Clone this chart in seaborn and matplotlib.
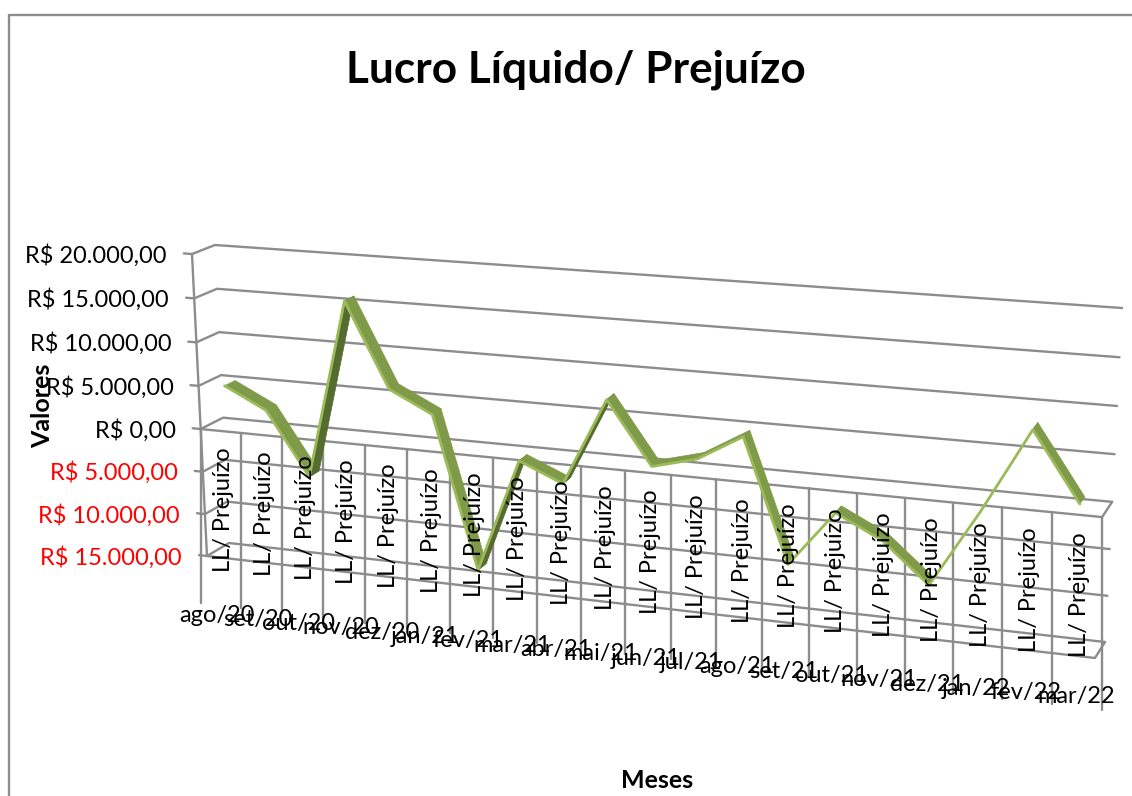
import matplotlib
matplotlib.use('Agg')
import matplotlib.pyplot as plt
import numpy as np
import pandas as pd
import seaborn as sns

months = ['ago/20', 'set/20', 'out/20', 'nov/20', 'dez/20', 'jan/21', 'fev/21', 'mar/21', 'abr/21', 'mai/21',
          'jun/21', 'jul/21', 'ago/21', 'set/21', 'out/21', 'nov/21', 'dez/21', 'jan/22', 'fev/22', 'mar/22']
profit = [4900, 2500, -4750, 15700, 6200, 3800, -13500, -500, -2600, 7200,
          300, 1600, 4500, -9000, -2800, -5300, -9600, -1200, 8000, 700]
levels = [20000, 15000, 10000, 5000, 0, -5000, -10000, -15000]
level_labels = ['R$ 20.000,00', 'R$ 15.000,00', 'R$ 10.000,00', 'R$ 5.000,00', 'R$ 0,00',
                'R$ 5.000,00', 'R$ 10.000,00', 'R$ 15.000,00']
series_name = 'LL/ Prejuízo'

V_TOP, V_BOTTOM = 20000, -15000
N = len(months)


def homography(corners):
    # unit square (tl, tr, br, bl) -> picture corners
    src = [(0, 1), (1, 1), (1, 0), (0, 0)]
    a, b = [], []
    for (s, t), (x, y) in zip(src, corners):
        a.append([s, t, 1, 0, 0, 0, -s * x, -t * x])
        a.append([0, 0, 0, s, t, 1, -s * y, -t * y])
        b += [x, y]
    return np.append(np.linalg.solve(np.array(a, float), np.array(b, float)), 1).reshape(3, 3)


H_FRONT = homography([(192, 254), (1112, 322), (1095, 658), (207, 556)])
H_BACK = homography([(215, 245), (1122, 308), (1105, 642), (229, 543)])


def project(u, v, depth=0.0):
    # category position, value, depth (0 front wall, 1 back wall) -> figure pixels
    u = np.asarray(u, float) / N
    v = (np.asarray(v, float) - V_BOTTOM) / (V_TOP - V_BOTTOM)
    pts = []
    for H in (H_FRONT, H_BACK):
        w = H[2, 0] * u + H[2, 1] * v + 1
        pts.append(((H[0, 0] * u + H[0, 1] * v + H[0, 2]) / w, (H[1, 0] * u + H[1, 1] * v + H[1, 2]) / w))
    x = pts[0][0] * (1 - depth) + pts[1][0] * depth
    y = pts[0][1] * (1 - depth) + pts[1][1] * depth
    return x, y


sns.set_theme(style='white')
plt.rcParams['font.family'] = ['Lato', 'DejaVu Sans']

fig = plt.figure(figsize=(11.32, 7.96), dpi=100)
ax = fig.add_axes([0, 0, 1, 1])
ax.set_xlim(0, 1132)
ax.set_ylim(796, 0)

# walls and floor, one row per vertex
rows = []


def add_path(name, xs, ys):
    for x, y in zip(xs, ys):
        rows.append({'path': name, 'x': float(x), 'y': float(y)})


for lev in levels:
    bx, by = project([N, 0], [lev, lev], 1)
    fx, fy = project([0, -0.2], [lev, lev], 0)
    add_path(f'wall{lev}', [bx[0], bx[1], fx[0], fx[1]], [by[0], by[1], fy[0], fy[1]])

fx, fy = project([0, 0], [V_TOP, V_BOTTOM], 0)
add_path('left', fx, fy)

fx, fy = project([0, N], [0, 0], 0)
bx, by = project(N, 0, 1)
add_path('zero', [fx[0], fx[1], bx], [fy[0], fy[1], by])

fx, fy = project([0, N], [V_BOTTOM, V_BOTTOM], 0)
bx, by = project(N, V_BOTTOM, 1)
add_path('floor', [fx[0], fx[1], bx], [fy[0], fy[1], by])

# category ticks hang straight down from the zero line
for i in range(N + 1):
    tx, ty = project(i, 0)
    _, by = project(i, -20700)
    add_path(f'tick{i}', [tx, tx], [ty, by])

grid = pd.DataFrame(rows)
sns.lineplot(data=grid, x='x', y='y', units='path', estimator=None, sort=False,
             color='#8c8c8c', linewidth=1.7, legend=False, ax=ax)

# the series as a flat ribbon standing in depth
d1, d2 = 0.26, 0.74
cats = np.arange(N) + 0.5
x1, y1 = project(cats, profit, d1)
x2, y2 = project(cats, profit, d2)
for i in range(N - 1):
    qx = [x1[i], x1[i + 1], x2[i + 1], x2[i]]
    qy = [y1[i], y1[i + 1], y2[i + 1], y2[i]]
    cross = (x1[i + 1] - x1[i]) * (y2[i] - y1[i]) - (y1[i + 1] - y1[i]) * (x2[i] - x1[i])
    col = '#7f9a48' if cross < 0 else '#566b2f'
    ax.fill(qx, qy, color=col, linewidth=0.5, zorder=3)
sns.lineplot(x=x1, y=y1, sort=False, estimator=None, color='#9bbb59', linewidth=2, ax=ax, zorder=4)

# texts
for i, name in enumerate(months):
    lx, _ = project(i + 0.5, 0)
    _, ly = project(i + 0.5, -9000)
    ax.text(lx + 3, ly + 2 - 7 * i / (N - 1), series_name, rotation=90, ha='center', va='center',
            fontsize=17, color='black', zorder=5)
    mx = lx - 4 + 3 * i / (N - 1)
    my = 615 + 82 * i / (N - 1)
    ax.text(mx, my, name, ha='center', va='center', fontsize=17, color='black', zorder=5)

for lev, lab in zip(levels, level_labels):
    tx, ty = project(-0.2, lev)
    ax.text(tx - 17, ty + 2, lab, ha='right', va='center', fontsize=17,
            color='red' if lev < 0 else 'black', zorder=5)

ax.text(576, 70, 'Lucro Líquido/ Prejuízo', ha='center', va='center', fontsize=31.8, fontweight='bold', color='black')
ax.text(43, 406, 'Valores', rotation=90, ha='center', va='center', fontsize=18, fontweight='bold', color='black', zorder=6)
ax.text(657, 780, 'Meses', ha='center', va='center', fontsize=18, fontweight='bold', color='black')

# chart frame, cut by the picture on the right and at the bottom
ax.plot([9, 9, 1132], [796, 15, 15], color='#8c8c8c', linewidth=1.7)

ax.set_xlabel('')
ax.set_ylabel('')
ax.axis('off')
fig.savefig('out.png', dpi=100, facecolor='white')
